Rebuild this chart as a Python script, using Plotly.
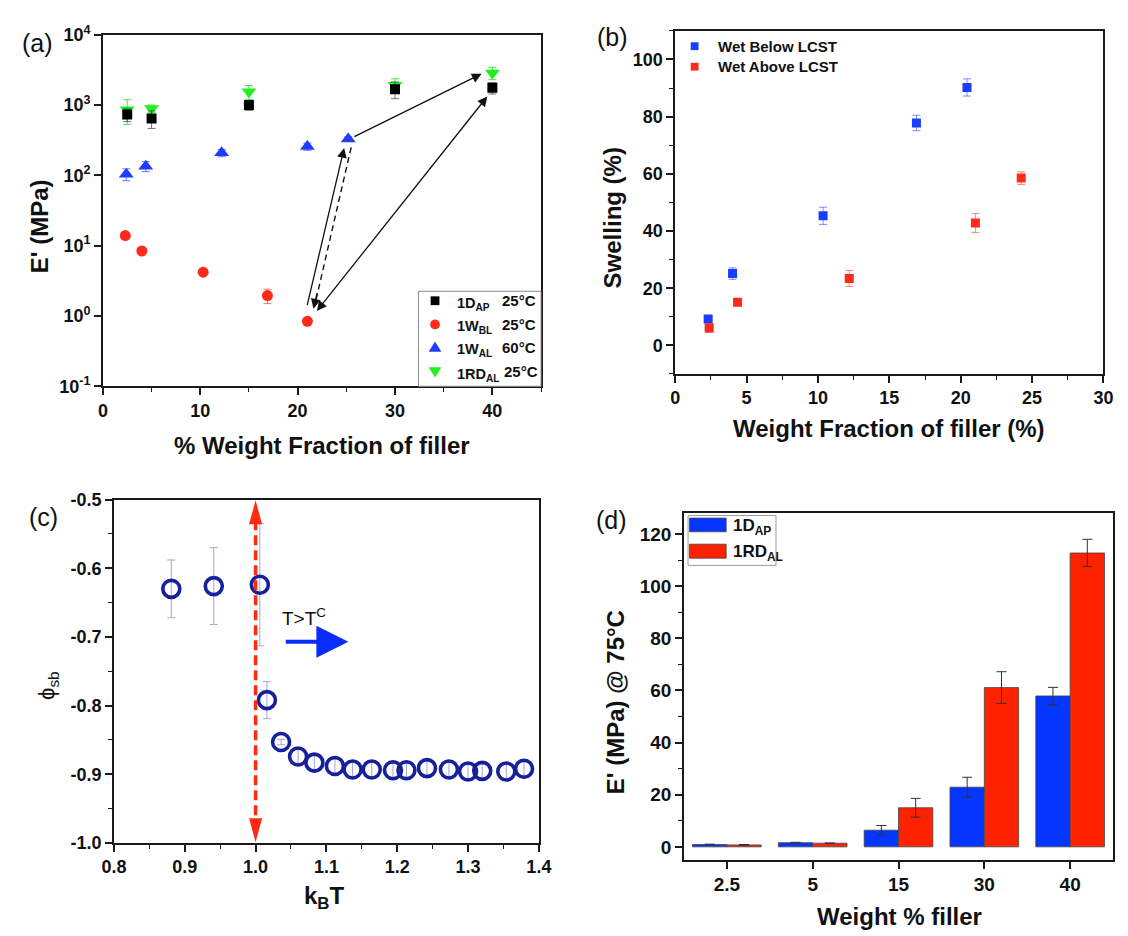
import numpy as np
import plotly.graph_objects as go

W, H = 1128, 936
FONT = "Liberation Sans, Arial, sans-serif"

# ---------------- (a) E' vs weight fraction (log scale) ----------------
a_dap_x = [2.5, 5, 15, 30, 40]
a_dap_y = [733, 645, 1000, 1683, 1757]
a_dap_err = [150, 180, 160, 450, 320]

a_wbl_x = [2.3, 4.0, 10.3, 16.9, 21.0]
a_wbl_y = [13.9, 8.4, 4.2, 1.95, 0.84]
a_wbl_err = [1.0, 0.6, 0.3, 0.45, 0.06]

a_wal_x = [2.4, 4.4, 12.2, 21.0, 25.2]
a_wal_y = [104, 135, 209, 257, 330]
a_wal_err = [20, 22, 25, 30, 25]

a_rdal_x = [2.5, 5, 15, 30, 40]
a_rdal_y = [861, 891, 1545, 1914, 2866]
a_rdal_err = [330, 110, 350, 450, 570]

a_ytick_vals = [0.1, 1, 10, 100, 1000, 10000]
a_ytick_text = ["10<sup>-1</sup>", "10<sup>0</sup>", "10<sup>1</sup>",
                "10<sup>2</sup>", "10<sup>3</sup>", "10<sup>4</sup>"]
a_names = ["1D<sub>AP</sub>", "1W<sub>BL</sub>", "1W<sub>AL</sub>", "1RD<sub>AL</sub>"]
a_temps = ["25°C", "25°C", "60°C", "25°C"]

# ---------------- (b) swelling ----------------
b_below_x = [2.31, 4.02, 10.36, 16.9, 20.44]
b_below_y = [9.2, 25.1, 45.3, 77.8, 90.2]
b_below_err = [1.0, 2.0, 3.0, 2.7, 3.0]

b_above_x = [2.38, 4.37, 12.19, 21.03, 24.24]
b_above_y = [6.1, 15.1, 23.4, 42.8, 58.5]
b_above_err = [1.5, 1.0, 2.8, 3.3, 2.2]
b_names = ["Wet Below LCST", "Wet Above LCST"]

# ---------------- (c) order parameter vs kBT ----------------
c_kt = [0.881, 0.941, 1.006, 1.016, 1.036, 1.060, 1.083, 1.112, 1.137,
        1.164, 1.194, 1.213, 1.242, 1.273, 1.300, 1.320, 1.354, 1.379]
c_phi = [-0.630, -0.626, -0.624, -0.792, -0.853, -0.874, -0.883, -0.888, -0.893,
         -0.893, -0.894, -0.894, -0.891, -0.893, -0.896, -0.895, -0.896, -0.892]
c_err = [0.042, 0.056, 0.089, 0.027, 0.004, 0.010, 0.010, 0.010, 0.010,
         0.010, 0.010, 0.010, 0.010, 0.010, 0.010, 0.010, 0.010, 0.010]
c_xtick_vals = [0.8, 0.9, 1.0, 1.1, 1.2, 1.3, 1.4]
c_xtick_text = ["0.8", "0.9", "1.0", "1.1", "1.2", "1.3", "1.4"]
c_ytick_vals = [-0.5, -0.6, -0.7, -0.8, -0.9, -1.0]
c_ytick_text = ["-0.5", "-0.6", "-0.7", "-0.8", "-0.9", "-1.0"]

# ---------------- (d) E' at 75 C bars ----------------
d_cats = ["2.5", "5", "15", "30", "40"]
d_dap = [0.9, 1.6, 6.4, 22.9, 57.9]
d_dap_err = [0.15, 0.15, 1.8, 3.8, 3.3]
d_rdal = [0.75, 1.4, 15.0, 61.1, 112.75]
d_rdal_err = [0.15, 0.1, 3.6, 6.1, 5.25]
d_names = ["1D<sub>AP</sub>", "1RD<sub>AL</sub>"]

BLACK = "#000000"
RED = "#ff2a1a"
BLUE = "#1f3cff"
GREEN = "#22ee22"
NAVY = "#16209a"
BAR_BLUE = "#0536ff"
BAR_RED = "#ff2200"
AXIS = "#1a1a1a"


def pxx(x):
    return x / W


def pxy(y):
    return 1 - y / H


def err(arr, color):
    return dict(type="data", array=arr, visible=True, color=color, thickness=1, width=4)


fig = go.Figure()

# ---- (a)
fig.add_trace(go.Scatter(
    x=a_rdal_x, y=a_rdal_y, mode="markers", name=a_names[3],
    marker=dict(symbol="triangle-down", size=13, color=GREEN),
    error_y=err(a_rdal_err, "rgba(34,220,34,0.8)"), xaxis="x", yaxis="y"))
fig.add_trace(go.Scatter(
    x=a_dap_x, y=a_dap_y, mode="markers", name=a_names[0],
    marker=dict(symbol="square", size=10, color=BLACK),
    error_y=err(a_dap_err, "rgba(60,60,60,0.7)"), xaxis="x", yaxis="y"))
fig.add_trace(go.Scatter(
    x=a_wbl_x, y=a_wbl_y, mode="markers", name=a_names[1],
    marker=dict(symbol="circle", size=11, color=RED),
    error_y=err(a_wbl_err, "rgba(255,60,40,0.7)"), xaxis="x", yaxis="y"))
fig.add_trace(go.Scatter(
    x=a_wal_x, y=a_wal_y, mode="markers", name=a_names[2],
    marker=dict(symbol="triangle-up", size=13, color=BLUE),
    error_y=err(a_wal_err, "rgba(40,70,255,0.7)"), xaxis="x", yaxis="y"))

# ---- (b)
fig.add_trace(go.Scatter(
    x=b_below_x, y=b_below_y, mode="markers", name=b_names[0],
    marker=dict(symbol="square", size=9, color="#1a3cff"),
    error_y=err(b_below_err, "rgba(40,70,255,0.6)"), xaxis="x2", yaxis="y2"))
fig.add_trace(go.Scatter(
    x=b_above_x, y=b_above_y, mode="markers", name=b_names[1],
    marker=dict(symbol="square", size=9, color=RED),
    error_y=err(b_above_err, "rgba(255,60,40,0.6)"), xaxis="x2", yaxis="y2"))

# ---- (c)
fig.add_trace(go.Scatter(
    x=c_kt, y=c_phi, mode="markers", name="phi_sb",
    marker=dict(symbol="circle", size=17, color="rgba(0,0,0,0)",
                line=dict(color=NAVY, width=3.6)),
    error_y=dict(type="data", array=c_err, visible=True, color="#a3a5d8",
                 thickness=1, width=4),
    xaxis="x3", yaxis="y3"))

# ---- (d)
fig.add_trace(go.Bar(
    x=d_cats, y=d_dap, name=d_names[0],
    marker=dict(color=BAR_BLUE, line=dict(color="#444", width=0.8)),
    error_y=dict(type="data", array=d_dap_err, visible=True, color="#333",
                 thickness=1, width=5),
    xaxis="x4", yaxis="y4"))
fig.add_trace(go.Bar(
    x=d_cats, y=d_rdal, name=d_names[1],
    marker=dict(color=BAR_RED, line=dict(color="#444", width=0.8)),
    error_y=dict(type="data", array=d_rdal_err, visible=True, color="#333",
                 thickness=1, width=5),
    xaxis="x4", yaxis="y4"))


def axis_style(size=18, **kw):
    base = dict(showline=True, linecolor=AXIS, linewidth=1.6, mirror=True,
                ticks="outside", ticklen=7, tickwidth=1.5, tickcolor=AXIS,
                showgrid=False, zeroline=False,
                tickfont=dict(family=FONT, size=size, color="#111", weight="bold"))
    base.update(kw)
    return base


def minor(d):
    return dict(ticks="outside", ticklen=4, tickwidth=1.3, tickcolor=AXIS, dtick=d)


layout = dict(
    width=W, height=H, margin=dict(l=0, r=0, t=0, b=0),
    paper_bgcolor="white", plot_bgcolor="white",
    font=dict(family=FONT, color="#111"),
    showlegend=False,
    barmode="group", bargap=0.2, bargroupgap=0,
    xaxis=axis_style(domain=[pxx(92), pxx(540.5)], range=[0, 45], dtick=10,
                     minor=minor(5), anchor="y"),
    yaxis=axis_style(domain=[pxy(383.3), pxy(23.3)], type="log", range=[-1, 4],
                     tickvals=a_ytick_vals, ticktext=a_ytick_text, anchor="x"),
    xaxis2=axis_style(domain=[pxx(677.8), pxx(1116.2)], range=[0, 30], dtick=5,
                      minor=minor(2.5), anchor="y2"),
    yaxis2=axis_style(domain=[pxy(370.7), pxy(19.3)], range=[-10, 110], dtick=20,
                      tick0=0, minor=minor(10), anchor="x2"),
    xaxis3=axis_style(domain=[pxx(103.3), pxx(538.3)], range=[0.8, 1.4],
                      tickvals=c_xtick_vals, ticktext=c_xtick_text,
                      minor=minor(0.05), anchor="y3"),
    yaxis3=axis_style(domain=[pxy(851), pxy(499.3)], range=[-1.0, -0.5],
                      tickvals=c_ytick_vals, ticktext=c_ytick_text,
                      minor=minor(0.05), anchor="x3"),
    xaxis4=axis_style(size=19, domain=[pxx(686.8), pxx(1126)], type="category",
                      range=[-0.5, 4.5], anchor="y4"),
    yaxis4=axis_style(size=19, domain=[pxy(868.3), pxy(513.3)], range=[-5, 128],
                      dtick=20, tick0=0, minor=minor(10), anchor="x4"),
)
fig.update_layout(**layout)

ann = []
shapes = []


def text_at(x, y, s, size=24, bold=True, angle=0, xanchor="center"):
    ann.append(dict(x=pxx(x), y=pxy(y), xref="paper", yref="paper", text=s,
                    showarrow=False, textangle=angle, xanchor=xanchor, yanchor="middle",
                    font=dict(family=FONT, size=size, color="#111",
                              weight="bold" if bold else "normal")))


# panel letters
text_at(25, 32, "(a)", size=25, bold=False)
text_at(614, 26, "(b)", size=25, bold=False)
text_at(31.7, 517, "(c)", size=25, bold=False)
text_at(612.5, 520, "(d)", size=25, bold=False)

# axis titles
text_at(316, 444, "% Weight Fraction of filler")
text_at(27, 219, "E' (MPa)", angle=-90)
text_at(897, 427, "Weight Fraction of filler (%)")
text_at(613.5, 211, "Swelling (%)", angle=-90)
text_at(318, 907, "k<sub>B</sub>T")
text_at(36, 690, "\u03d5<sub>sb</sub>", size=22, bold=False, angle=-90)
text_at(907.8, 926, "Weight % filler")
text_at(617, 707, "E' (MPa) @ 75°C", angle=-90)

# ---- (a) legend box
shapes.append(dict(type="rect", xref="paper", yref="paper", x0=pxx(415), x1=pxx(540.5),
                   y0=pxy(383.3), y1=pxy(286), line=dict(color="#8a8a8a", width=1),
                   fillcolor="white"))
rows_a = [295.7, 320, 343.5, 368.3]
mx = 432
shapes.append(dict(type="rect", xref="paper", yref="paper", x0=pxx(mx - 4.5), x1=pxx(mx + 4.5),
                   y0=pxy(rows_a[0] + 4.5), y1=pxy(rows_a[0] - 4.5),
                   fillcolor=BLACK, line=dict(width=0)))
shapes.append(dict(type="circle", xref="paper", yref="paper", x0=pxx(mx - 5), x1=pxx(mx + 5),
                   y0=pxy(rows_a[1] + 5), y1=pxy(rows_a[1] - 5),
                   fillcolor=RED, line=dict(width=0)))
r = rows_a[2]
shapes.append(dict(type="path", xref="paper", yref="paper",
                   path=f"M {pxx(mx-6.5)},{pxy(r+4.5)} L {pxx(mx+6.5)},{pxy(r+4.5)} L {pxx(mx)},{pxy(r-6)} Z",
                   fillcolor=BLUE, line=dict(width=0)))
r = rows_a[3]
shapes.append(dict(type="path", xref="paper", yref="paper",
                   path=f"M {pxx(mx-6.5)},{pxy(r-4.5)} L {pxx(mx+6.5)},{pxy(r-4.5)} L {pxx(mx)},{pxy(r+6)} Z",
                   fillcolor=GREEN, line=dict(width=0)))
for i, (nm, tp) in enumerate(zip(a_names, a_temps)):
    text_at(452, rows_a[i] + 3, nm, size=14.5, xanchor="left")
    text_at(537 if i < 3 else 539.5, rows_a[i], tp, size=15, xanchor="right")

# ---- (b) legend
rows_b = [35, 56]
for i, (nm, col) in enumerate(zip(b_names, ["#1a3cff", RED])):
    shapes.append(dict(type="rect", xref="paper", yref="paper", x0=pxx(693.7), x1=pxx(701.7),
                       y0=pxy(rows_b[i] + 4), y1=pxy(rows_b[i] - 4),
                       fillcolor=col, line=dict(width=0)))
    text_at(719.4, rows_b[i], nm, size=15, xanchor="left")

# ---- (a) arrows between states (annotation y on log axis is log10)
L = np.log10


def arrow_a(tail, head, both=False):
    ann.append(dict(x=head[0], y=float(L(head[1])), ax=tail[0], ay=float(L(tail[1])),
                    xref="x", yref="y", axref="x", ayref="y", text="", showarrow=True,
                    arrowhead=2, arrowsize=1.5, arrowwidth=1.3, arrowcolor="#111",
                    arrowside="end+start" if both else "end",
                    startarrowhead=2, startarrowsize=1.5))


arrow_a((20.95, 1.36), (24.78, 245))
arrow_a((25.67, 348), (38.9, 2783))
arrow_a((39.6, 1390), (21.98, 1.18), both=True)
# dashed return path: line + head
shapes.append(dict(type="line", xref="x", yref="y", x0=25.5, y0=250, x1=21.75, y1=1.4,
                   line=dict(color="#111", width=1.4, dash="6px,4px")))
ann.append(dict(x=21.63, y=float(L(1.27)), ax=4, ay=-17, xref="x", yref="y",
                text="", showarrow=True, arrowhead=2, arrowsize=1.5, arrowwidth=1.3,
                arrowcolor="#111"))

# ---- (c) annotations
ann.append(dict(x=1.069, y=-0.671, xref="x3", yref="y3", text="T>T<sup>C</sup>",
                showarrow=False, font=dict(family=FONT, size=19, color="#111")))
ann.append(dict(x=1.131, y=-0.707, ax=1.0405, ay=-0.707, xref="x3", yref="y3",
                axref="x3", ayref="y3", text="", showarrow=True, arrowhead=2,
                arrowsize=1.6, arrowwidth=4, arrowcolor="#0a2cff"))
shapes += [
    dict(type="line", xref="x3", yref="y3", x0=1.0, x1=1.0, y0=-0.53, y1=-0.97,
         line=dict(color="#ff2a10", width=3.5, dash="10px,5px")),
    dict(type="path", xref="x3", yref="y3", path="M 0.9908,-0.536 L 1.0092,-0.536 L 1.0,-0.501 Z",
         fillcolor="#ff2a10", line=dict(width=0)),
    dict(type="path", xref="x3", yref="y3", path="M 0.9908,-0.964 L 1.0092,-0.964 L 1.0,-0.999 Z",
         fillcolor="#ff2a10", line=dict(width=0)),
]

# ---- (d) legend
shapes += [
    dict(type="rect", xref="paper", yref="paper", x0=pxx(691), x1=pxx(781),
         y0=pxy(566.7), y1=pxy(515.7), line=dict(color="#9a9a9a", width=1),
         fillcolor="white"),
    dict(type="rect", xref="paper", yref="paper", x0=pxx(692.5), x1=pxx(730),
         y0=pxy(532.3), y1=pxy(518.3), line=dict(color="#444", width=0.8),
         fillcolor=BAR_BLUE),
    dict(type="rect", xref="paper", yref="paper", x0=pxx(692.5), x1=pxx(730),
         y0=pxy(559.3), y1=pxy(545), line=dict(color="#444", width=0.8),
         fillcolor=BAR_RED),
]
text_at(735, 527, d_names[0], size=17, xanchor="left")
text_at(735, 554, d_names[1], size=17, xanchor="left")

fig.update_layout(annotations=ann, shapes=shapes)
fig.write_html("out.html")
